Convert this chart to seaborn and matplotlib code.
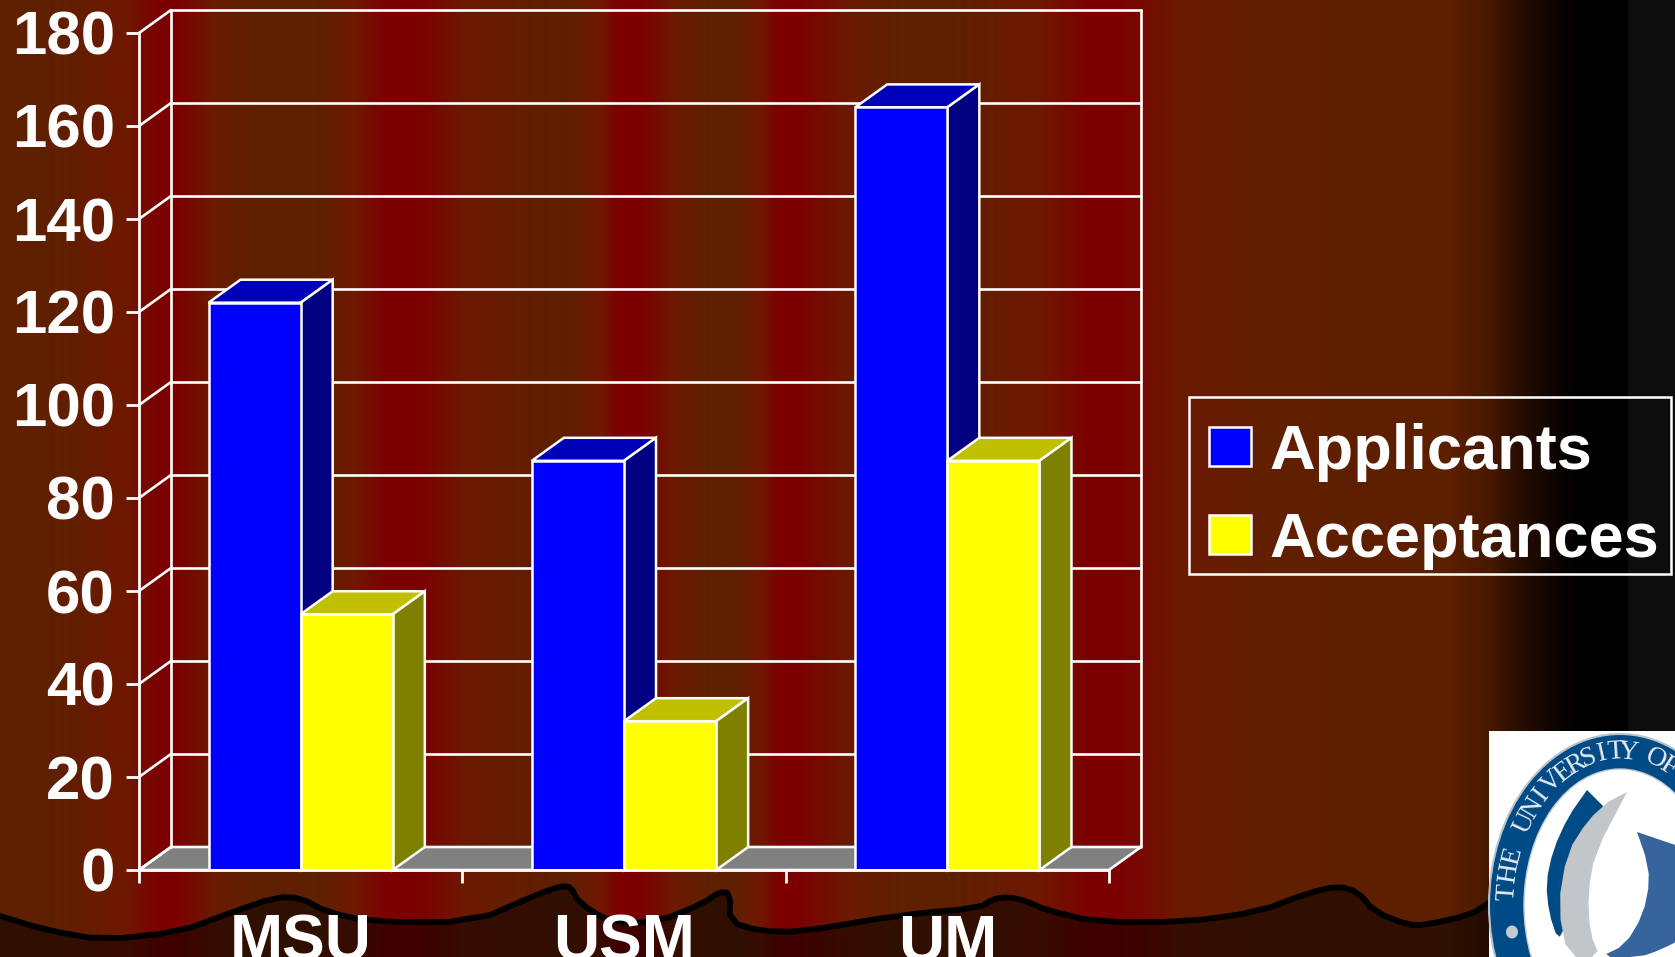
import matplotlib
matplotlib.use('Agg')
import matplotlib.pyplot as plt
from matplotlib.colors import LinearSegmentedColormap, to_rgb
from matplotlib.patches import Ellipse, Polygon, Rectangle
import numpy as np
import pandas as pd
import seaborn as sns

# chart values
schools = ["MSU", "USM", "UM"]
applicants = [122, 88, 164]
acceptances = [55, 32, 88]
y_ticks = [0, 20, 40, 60, 80, 100, 120, 140, 160, 180]

# slide decoration, in pixels
brown, shoulder, mid, red = "#5e2000", "#6f1800", "#6b1a00", "#7c0000"
band_x = [0, 50, 125, 160, 175, 213, 250, 317, 355, 387, 417, 467, 565, 600, 620, 640, 675, 710, 735, 760,
          780, 800, 850, 900, 950, 1040, 1090, 1120, 1180, 1280, 1450, 1490, 1517, 1557, 1580, 1628, 1629, 1675]
band_col = [brown, brown, shoulder, red, red, mid, brown, brown, shoulder, red, red, mid, brown, shoulder, red,
            red, mid, brown, brown, shoulder, red, red, mid, brown, brown, shoulder, red, red, mid, "#602000",
            "#5c1f00", "#481800", "#2a0e00", "#0c0400", "#000000", "#000000", "#0d0d0d", "#0d0d0d"]
land_x = [0, 46, 102, 179, 230, 276, 301, 327, 372, 474, 536, 561, 571, 579, 612, 658, 704, 719, 730, 730,
          760, 800, 900, 979, 993, 1009, 1026, 1046, 1096, 1185, 1258, 1308, 1338, 1358, 1375, 1408, 1425, 1470, 1489]
land_y = [916, 930, 940, 932, 913, 897, 898, 912, 922, 922, 895, 886, 887, 903, 923, 922, 903, 892, 893, 922,
          931, 932, 915, 908, 899, 897, 901, 910, 922, 922, 912, 893, 886, 892, 912, 925, 925, 915, 903]
crescent_dark = [(1604, 807), (1585, 833), (1568, 870), (1562, 897), (1565, 927), (1558, 940), (1549, 913),
                 (1546, 883), (1553, 850), (1568, 817), (1587, 790)]
crescent_grey = [(1627, 792), (1595, 853), (1588, 893), (1590, 933), (1600, 957), (1568, 957), (1558, 907),
                 (1567, 853), (1588, 820), (1608, 802)]
drop_blue = [(1637, 832), (1690, 850), (1690, 935), (1660, 950), (1640, 957), (1600, 957), (1625, 945),
             (1643, 915), (1650, 880), (1645, 855)]
seal_text = "THE UNIVERSITY OF"

W, H = 1675, 957
sns.set_style("white")
plt.rcParams['font.family'] = ['Liberation Sans', 'DejaVu Sans']
plt.rcParams['font.weight'] = 'bold'


def soften(points, rounds=1):
    # corner cutting so the hand read outlines do not look jagged, ends stay put
    pts = np.asarray(points, dtype=float)
    for _ in range(rounds):
        q = 0.75 * pts[:-1] + 0.25 * pts[1:]
        r = 0.25 * pts[:-1] + 0.75 * pts[1:]
        mid_pts = np.empty((2 * len(q), 2))
        mid_pts[0::2], mid_pts[1::2] = q, r
        pts = np.vstack([pts[:1], mid_pts, pts[-1:]])
    return pts


fig = plt.figure(figsize=(W / 100, H / 100), dpi=100)

# background stripes and the dark land along the bottom
bg = fig.add_axes([0, 0, 1, 1], zorder=0)
bg.set_xlim(0, W)
bg.set_ylim(H, 0)
bg.axis('off')
stops = [x / W for x in band_x]
band_cmap = LinearSegmentedColormap.from_list("bands", list(zip(stops, band_col)), N=W)
land_cmap = LinearSegmentedColormap.from_list(
    "land", [(s, tuple(0.5 * c for c in to_rgb(col))) for s, col in zip(stops, band_col)], N=W)
grad = np.linspace(0, 1, W)[None, :]
bg.imshow(grad, cmap=band_cmap, extent=(0, W, H, 0), aspect='auto', vmin=0, vmax=1)
land_im = bg.imshow(grad, cmap=land_cmap, extent=(0, W, H, 0), aspect='auto', vmin=0, vmax=1)
land_line = soften(list(zip(land_x, land_y)))
land_poly = Polygon(np.vstack([land_line, [(1489, H), (0, H)]]), closed=True, transform=bg.transData,
                    fc='none', ec='none')
bg.add_patch(land_poly)
land_im.set_clip_path(land_poly)
bg.plot(land_line[:, 0], land_line[:, 1], color='black', lw=4.2, solid_joinstyle='round')

# logo in the corner
bg.add_patch(Rectangle((1489, 731), W - 1489, H - 731, fc='white', ec='none', zorder=5))
cx, cy = 1620, 905
bg.add_patch(Ellipse((cx, cy), 262, 342, fc='#004a86', ec='#b9c3cc', lw=1.5, zorder=6))
bg.add_patch(Ellipse((cx, cy), 192, 272, fc='white', ec='#c5ccd2', lw=1, zorder=7))
bg.add_patch(Polygon(soften(crescent_dark), fc='#004a86', ec='none', zorder=8))
bg.add_patch(Polygon(soften(crescent_grey), fc='#c3c6c8', ec='none', zorder=9))
bg.add_patch(Polygon(soften(drop_blue), fc='#36659e', ec='none', zorder=8))
bg.add_patch(Ellipse((1512, 932), 12, 13, fc='#c3ccd4', ec='none', zorder=9))
for ch, deg in zip(seal_text, np.linspace(175, 65, len(seal_text))):
    t = np.radians(deg)
    tx, ty = cx + 113 * np.cos(t), cy - 153 * np.sin(t)
    angle = np.degrees(np.arctan2(-153 * np.cos(t), 113 * np.sin(t)))
    bg.text(tx, ty, ch, family=['Liberation Serif'], weight='normal', fontsize=20, color='#e4eaf0',
            rotation=angle, rotation_mode='anchor', ha='center', va='center', zorder=10)

# the chart itself, axes sit on the front plane of the 3d box
left, right, top, bottom = 139, 1109, 33, 870
ax = fig.add_axes([left / W, 1 - bottom / H, (right - left) / W, (bottom - top) / H], zorder=1)
ax.patch.set_alpha(0)

df = pd.DataFrame({
    "school": schools * 2,
    "series": ["Applicants"] * 3 + ["Acceptances"] * 3,
    "count": applicants + acceptances,
})
sns.barplot(data=df, x="school", y="count", hue="series", order=schools,
            palette={"Applicants": "#0000ff", "Acceptances": "#ffff00"}, saturation=1,
            width=0.57, gap=0, edgecolor='white', linewidth=1.8, ax=ax)
ax.set_xlim(-0.5, 2.5)
ax.set_ylim(0, 180)
ax.set_xlabel("")
ax.set_ylabel("")

# depth of the box in data units
dx = 32 / ((right - left) / 3)
dy = 23 / ((bottom - top) / 180)
line = dict(color='white', lw=1.9, clip_on=False)

# floor, back wall, side wall
ax.add_patch(Polygon([(-0.5, 0), (2.5, 0), (2.5 + dx, dy), (-0.5 + dx, dy)], fc='#808080', ec='white', lw=1.9,
                     clip_on=False, zorder=1))
for v in y_ticks[1:]:
    ax.plot([-0.5 + dx, 2.5 + dx], [v + dy, v + dy], zorder=1.5, **line)
for v in y_ticks:
    ax.plot([-0.5, -0.5 + dx], [v, v + dy], zorder=1.5, **line)
ax.plot([-0.5 + dx, -0.5 + dx], [dy, 180 + dy], zorder=1.5, **line)
ax.plot([2.5 + dx, 2.5 + dx], [dy, 180 + dy], zorder=1.5, **line)

# top and side faces for every bar, darker shades of the front colour
shades = {"#0000ff": ("#0000b8", "#000080"), "#ffff00": ("#c0c000", "#808000")}
for i, container in enumerate(ax.containers):
    face = ["#0000ff", "#ffff00"][i]
    for bar in container:
        x0, w, h = bar.get_x(), bar.get_width(), bar.get_height()
        z = 3 + i
        ax.add_patch(Polygon([(x0, h), (x0 + w, h), (x0 + w + dx, h + dy), (x0 + dx, h + dy)],
                             fc=shades[face][0], ec='white', lw=1.8, clip_on=False, zorder=z))
        ax.add_patch(Polygon([(x0 + w, 0), (x0 + w + dx, dy), (x0 + w + dx, h + dy), (x0 + w, h)],
                             fc=shades[face][1], ec='white', lw=1.8, clip_on=False, zorder=z))
        bar.set_zorder(z + 0.5)

for side in ('top', 'right'):
    ax.spines[side].set_visible(False)
for side in ('left', 'bottom'):
    ax.spines[side].set_color('white')
    ax.spines[side].set_linewidth(2.0)
    ax.spines[side].set_zorder(6)

ax.set_yticks(y_ticks)
ax.set_xticks([0, 1, 2])
ax.set_xticklabels(schools)
ax.set_xticks([-0.5, 0.5, 1.5, 2.5], minor=True)
ax.tick_params(axis='y', colors='white', labelsize=44.5, length=9.4, width=2.0, pad=8, left=True)
ax.tick_params(axis='x', which='major', colors='white', labelsize=46, length=0, pad=31)
ax.tick_params(axis='x', which='minor', color='white', length=9, width=2.0, bottom=True)

# legend contents come from the bars, box drawn separately since its padding is uneven
handles, labels = ax.get_legend_handles_labels()
ax.legend(handles, labels, loc='upper left', bbox_to_anchor=(1209 / W, 1 - 423 / H),
          bbox_transform=fig.transFigure, borderaxespad=0, borderpad=0, fontsize=45.5, frameon=False,
          labelcolor='white', handlelength=0.66, handleheight=0.58, handletextpad=0.29, labelspacing=0.46)
bg.add_patch(Rectangle((1189, 397), 482, 177, fc='none', ec='white', lw=1.8, zorder=4))

fig.savefig('out.png', dpi=100)
